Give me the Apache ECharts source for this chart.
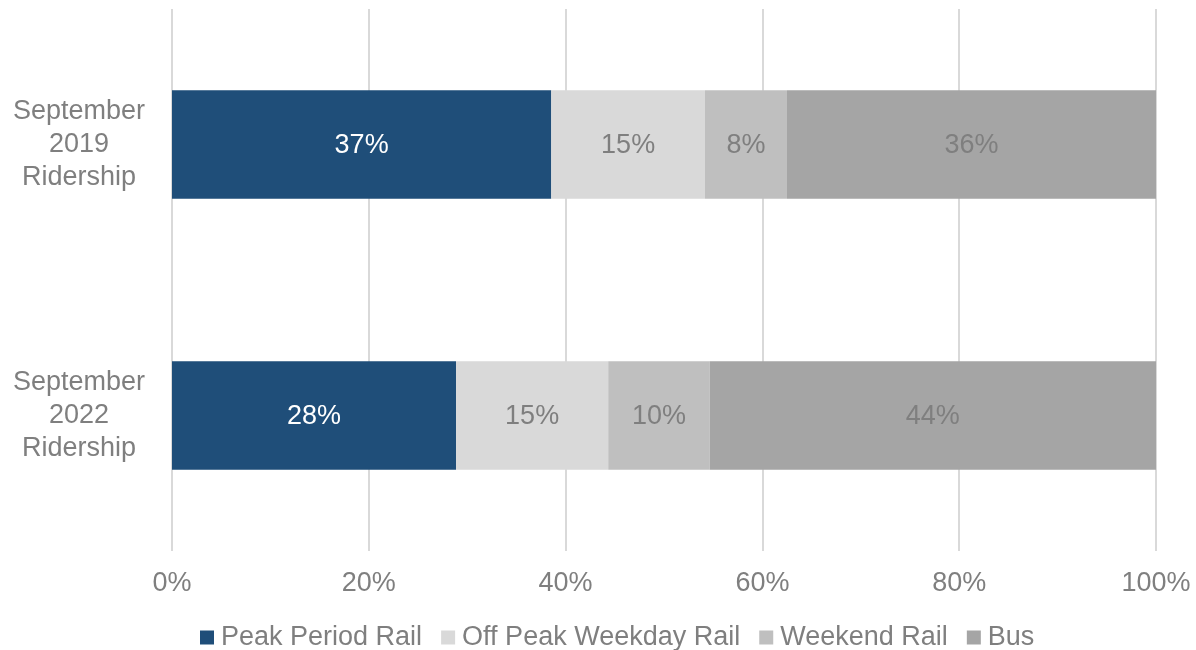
<!DOCTYPE html>
<html>
<head>
<meta charset="utf-8">
<script src="https://cdn.jsdelivr.net/npm/echarts@6/dist/echarts.min.js"></script>
<style>
  html, body { margin: 0; padding: 0; background: #fff; }
  #chart { width: 1196px; height: 650px; }
</style>
</head>
<body>
<div id="chart"></div>
<script>
var categories = ['September\n2019\nRidership', 'September\n2022\nRidership'];
var seriesNames = ['Peak Period Rail', 'Off Peak Weekday Rail', 'Weekend Rail', 'Bus'];
// shares as labelled in the picture (percent)
var peakRail = [37, 28];
var offPeakRail = [15, 15];
var weekendRail = [8, 10];
var bus = [36, 44];
var xTicks = [0, 20, 40, 60, 80, 100];

var colors = ['#1F4E79', '#D9D9D9', '#BFBFBF', '#A5A5A5'];
var labelColors = ['#ffffff', '#7F7F7F', '#7F7F7F', '#7F7F7F'];
var raw = [peakRail, offPeakRail, weekendRail, bus];
var font = 'Liberation Sans, Arial, sans-serif';

// 100% stacked: each row is scaled to its own total
var totals = categories.map(function (c, i) {
  return raw.reduce(function (s, arr) { return s + arr[i]; }, 0);
});

var myChart = echarts.init(document.getElementById('chart'));

var series = raw.map(function (arr, k) {
  return {
    name: seriesNames[k],
    type: 'bar',
    stack: 'total',
    barWidth: '40%',
    itemStyle: { color: colors[k] },
    label: {
      show: true,
      position: 'inside',
      offset: [0, 1],
      color: labelColors[k],
      fontSize: 27,
      fontFamily: font,
      formatter: function (p) { return arr[p.dataIndex] + '%'; }
    },
    data: arr.map(function (v, i) { return v / totals[i] * 100; })
  };
});

var option = {
  animation: false,
  color: colors,
  grid: { left: 172, right: 40, top: 9, bottom: 99 },
  legend: {
    data: seriesNames,
    top: 619,
    left: 195,
    itemWidth: 14,
    itemHeight: 14,
    itemGap: 19,
    icon: 'rect',
    textStyle: {
      color: '#7F7F7F',
      fontSize: 27,
      fontFamily: font,
      padding: [0, 0, 0, 2]
    }
  },
  xAxis: {
    type: 'value',
    min: xTicks[0],
    max: xTicks[xTicks.length - 1],
    interval: 20,
    axisLine: { show: false },
    axisTick: { show: false },
    splitLine: { lineStyle: { color: '#D9D9D9', width: 2 } },
    axisLabel: {
      formatter: '{value}%',
      color: '#7F7F7F',
      fontSize: 27,
      margin: 19,
      fontFamily: font
    }
  },
  yAxis: {
    type: 'category',
    inverse: true,
    data: categories,
    axisLine: { show: false },
    axisTick: { show: false },
    axisLabel: {
      color: '#7F7F7F',
      fontSize: 27,
      lineHeight: 33,
      align: 'center',
      margin: 93,
      fontFamily: font
    }
  },
  series: series
};
myChart.setOption(option);
</script>
</body>
</html>
